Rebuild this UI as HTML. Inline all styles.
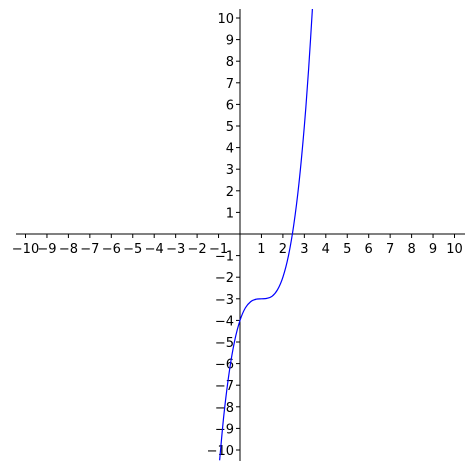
<!DOCTYPE html>
<html><head><meta charset="utf-8"><style>
body{margin:0;background:#fff}
svg text{font-family:"DejaVu Sans","Liberation Sans",sans-serif;font-size:13px;fill:#000}
</style></head><body>
<svg id="c" width="474" height="468"></svg>
<script>
const xTicks=[-10,-9,-8,-7,-6,-5,-4,-3,-2,-1,1,2,3,4,5,6,7,8,9,10];
const yTicks=[-10,-9,-8,-7,-6,-5,-4,-3,-2,-1,1,2,3,4,5,6,7,8,9,10];
const curveX=[-0.95,-0.75,-0.5,-0.25,0,0.25,0.5,0.75,1,1.25,1.5,1.75,2,2.25,2.5,2.75,3,3.2,3.4];
const curveY=[-10.48,-8.36,-6.38,-4.95,-4,-3.42,-3.13,-3.02,-3,-2.98,-2.88,-2.58,-2,-1.05,0.38,2.36,5,7.65,10.82];
const svg=document.getElementById('c');
const NS='http://www.w3.org/2000/svg';
const X0=240,Y0=234,SX=21.45,SY=21.6;
const sx=v=>X0+v*SX, sy=v=>Y0-v*SY;
function mk(t,a,p){const e=document.createElementNS(NS,t);for(const k in a)e.setAttribute(k,a[k]);(p||svg).appendChild(e);return e;}
const ax=mk('line',{x1:16,x2:465,y1:Y0,y2:Y0,stroke:'#000','stroke-width':1});


const ay=mk('line',{x1:X0,x2:X0,y1:9,y2:461,stroke:'#000','stroke-width':1});


const fmt=v=>v<0?'\u2212'+Math.abs(v):''+v;
xTicks.forEach(v=>{
  const x=sx(v);
  mk('line',{x1:x,x2:x,y1:Y0,y2:Y0+4,stroke:'#000'});
  const t=mk('text',{x:x,y:Y0+19,'text-anchor':'middle'});t.textContent=fmt(v);
  
  
});
yTicks.forEach(v=>{
  const y=sy(v);
  mk('line',{x1:X0-4,x2:X0,y1:y,y2:y,stroke:'#000'});
  const t=mk('text',{x:X0-6,y:y+5,'text-anchor':'end'});t.textContent=fmt(v);
  
  
});
const pts=curveX.map((v,i)=>[sx(v),sy(curveY[i])]);
let d='M'+pts[0][0]+','+pts[0][1];
for(let i=0;i<pts.length-1;i++){
  const p0=pts[Math.max(0,i-1)],p1=pts[i],p2=pts[i+1],p3=pts[Math.min(pts.length-1,i+2)];
  const c1=[p1[0]+(p2[0]-p0[0])/6,p1[1]+(p2[1]-p0[1])/6];
  const c2=[p2[0]-(p3[0]-p1[0])/6,p2[1]-(p3[1]-p1[1])/6];
  d+=` C${c1[0]},${c1[1]} ${c2[0]},${c2[1]} ${p2[0]},${p2[1]}`;
}
mk('clipPath',{id:'clip'});
mk('rect',{x:16,y:9,width:449,height:452},svg.lastChild);
const line=mk('path',{d:d,fill:'none',stroke:'#0000ff','stroke-width':1.2,'clip-path':'url(#clip)'});


</script>
</body></html>
